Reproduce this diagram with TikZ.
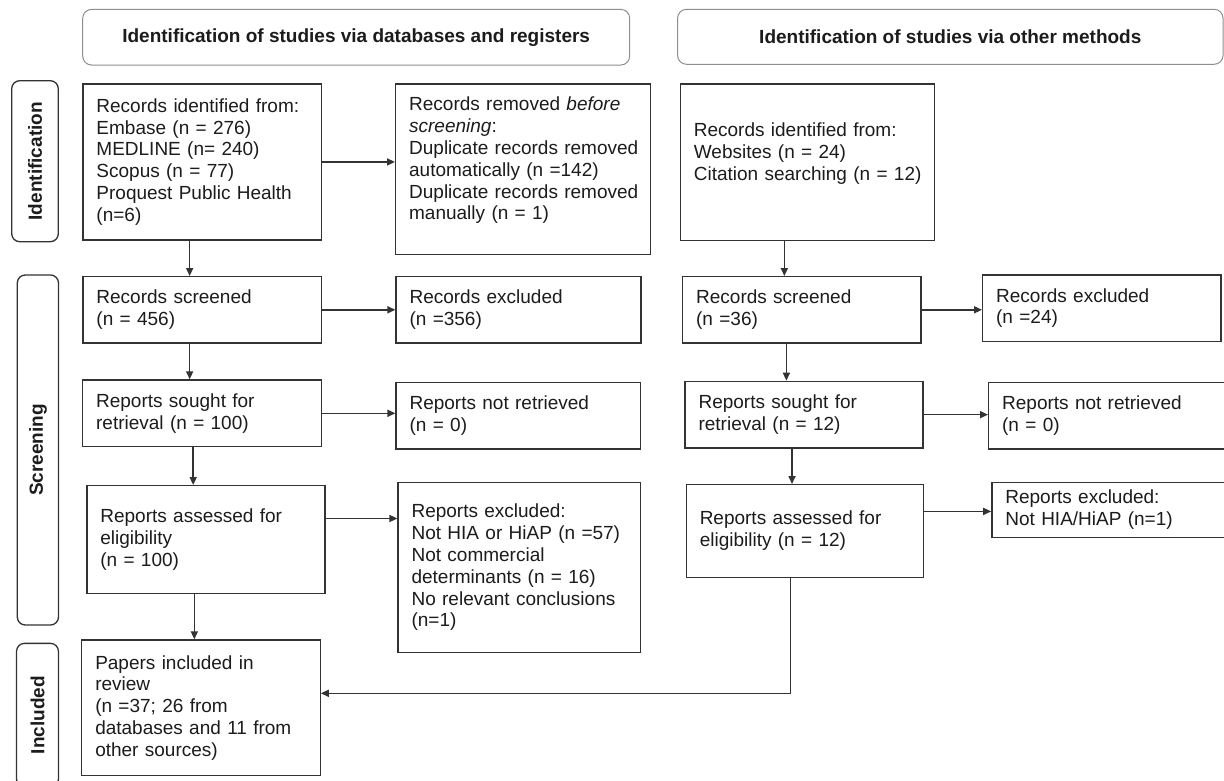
\documentclass[tikz,border=0pt]{standalone}
\usepackage{fontspec}
\setmainfont{Liberation Sans}
\usetikzlibrary{calc,arrows.meta}
\definecolor{boxc}{HTML}{333333}
\definecolor{hdrc}{HTML}{8E8E8E}
\definecolor{txtc}{HTML}{1C1C1C}
\begin{document}
\begin{tikzpicture}[x=1pt,y=-1pt,
  box/.style={draw=boxc, line width=1.3pt, rectangle, anchor=north west,
    align=left, inner xsep=13.5pt, inner ysep=0pt, text=txtc,
    font=\fontsize{19}{21.85}\selectfont},
  hdr/.style={draw=hdrc, line width=1pt, rounded corners=9pt, rectangle,
    inner sep=0pt, text=txtc, font=\fontsize{19}{22}\selectfont\bfseries},
  side/.style={draw=boxc, line width=1.3pt, rounded corners=8pt, rectangle,
    rotate=90, inner sep=0pt, text=txtc, font=\fontsize{19}{22}\selectfont\bfseries},
  arr/.style={draw=boxc, line width=1.6pt, -{Triangle[length=8pt,width=7pt]}},
  ln/.style={draw=boxc, line width=1.6pt}
]
\useasboundingbox (0,0) rectangle (1224,781);
\clip (0,0) rectangle (1224,781);
\fill[white] (0,0) rectangle (1224,781);

% headers
\node[hdr, minimum width=547pt, minimum height=55.7pt] (h1) at (356.2,37.2)
  {Identification of studies via databases and registers};
\node[hdr, minimum width=545.5pt, minimum height=55pt] (h2) at (950.3,36.8)
  {Identification of studies via other methods};

% side labels
\node[side, minimum width=161pt, minimum height=46.6pt] (sid) at (35,161.2) {Identification};
\node[side, minimum width=350pt, minimum height=41.2pt] (ssc) at (37.9,450) {Screening};
\node[side, minimum width=143.7pt, minimum height=41.9pt] (sin) at (37.5,715.2) {Included};

% left column
\node[box, text width=211.4pt, minimum height=156pt] (b1) at (82.3,83.3)
  {Records identified from:\\Embase (n = 276)\\MEDLINE (n= 240)\\Scopus (n = 77)\\Proquest Public Health\\(n=6)};
\node[box, text width=227.7pt, minimum height=170.7pt] (b2) at (395,83.3)
  {\mbox{Records removed \textit{before}}\\\textit{screening}:\\\mbox{Duplicate records removed}\\\mbox{automatically (n =142)}\\\mbox{Duplicate records removed}\\\mbox{manually (n = 1)}\\\mbox{}};
\node[box, text width=211.4pt, minimum height=66.3pt] (s1) at (82.3,276)
  {Records screened\\(n = 456)};
\node[box, text width=217.9pt, minimum height=66.3pt] (e1) at (395.4,276)
  {Records excluded\\(n =356)};
\node[box, text width=211.5pt, minimum height=66.7pt] (r2) at (82,379.3)
  {Reports sought for\\retrieval (n = 100)};
\node[box, text width=217.6pt, minimum height=66.6pt] (n2) at (395.4,381.7)
  {Reports not retrieved\\(n = 0)};
\node[box, text width=211pt, minimum height=107.7pt] (a1) at (86.2,485)
  {Reports assessed for\\eligibility\\(n = 100)};
\node[box, text width=215.4pt, minimum height=170pt] (x1) at (397.4,481.7)
  {Reports excluded:\\Not HIA or HiAP (n =57)\\Not commercial\\determinants (n = 16)\\No relevant conclusions\\(n=1)};
\node[box, text width=211.4pt, minimum height=135.7pt] (p) at (81.1,639.3)
  {Papers included in\\review\\(n =37; 26 from\\databases and 11 from\\other sources)};

% right column
\node[box, text width=227pt, minimum height=156.7pt] (b3) at (679.7,83.3)
  {Records identified from:\\Websites (n = 24)\\\mbox{Citation searching (n = 12)}\\\mbox{}};
\node[box, text width=211.3pt, minimum height=66.3pt] (rs1) at (682,276)
  {Records screened\\(n =36)};
\node[box, text width=211.3pt, minimum height=66.4pt] (re1) at (982,274.3)
  {Records excluded\\(n =24)};
\node[box, text width=210.9pt, minimum height=66.6pt] (rr2) at (684.4,380.7)
  {Reports sought for\\retrieval (n = 12)};
\node[box, text width=211pt, minimum height=66.6pt] (rn2) at (988,381.7)
  {Reports not retrieved\\(n = 0)};
\node[box, text width=210.5pt, minimum height=92.7pt] (ra1) at (685.6,484)
  {Reports assessed for\\eligibility (n = 12)};
\node[box, text width=211pt, minimum height=55pt] (rx1) at (991.2,481.7)
  {Reports excluded:\\Not HIA/HiAP (n=1)};

% connectors
\draw[arr] (b1.east) -- (b1.east -| b2.west);
\coordinate (c2) at ([xshift=-12.5pt]b1.south);
\draw[arr] (c2) -- (c2 |- s1.north);
\coordinate (c3) at ([xshift=-23pt]b3.south);
\draw[arr] (c3) -- (c3 |- rs1.north);
\draw[arr] (s1.east) -- (s1.east -| e1.west);
\draw[arr] (rs1.east) -- (rs1.east -| re1.west);
\coordinate (c6) at ([xshift=-12.5pt]s1.south);
\draw[arr] (c6) -- (c6 |- r2.north);
\coordinate (c7) at ([xshift=-15.4pt]rs1.south);
\draw[arr] (c7) -- (c7 |- rr2.north);
\draw[arr] (r2.east) -- (r2.east -| n2.west);
\draw[arr] (rr2.east) -- (rr2.east -| rn2.west);
\coordinate (c10) at ([xshift=-8.7pt]r2.south);
\draw[arr] (c10) -- (c10 |- a1.north);
\coordinate (c11) at ([xshift=-12pt]rr2.south);
\draw[arr] (c11) -- (c11 |- ra1.north);
\coordinate (c12) at ([yshift=21pt]a1.east);
\draw[arr] (c12) -- (c12 -| x1.west);
\coordinate (c13) at ([yshift=19.6pt]ra1.east);
\draw[arr] (c13) -- (c13 -| rx1.west);
\coordinate (c14) at ([xshift=-11.5pt]a1.south);
\draw[arr] (c14) -- (c14 |- p.north);
\coordinate (c15) at ([xshift=-14.6pt]ra1.south);
\coordinate (c16) at ([yshift=14.5pt]p.east);
\draw[arr] (c15) |- (c16);
\end{tikzpicture}
\end{document}
